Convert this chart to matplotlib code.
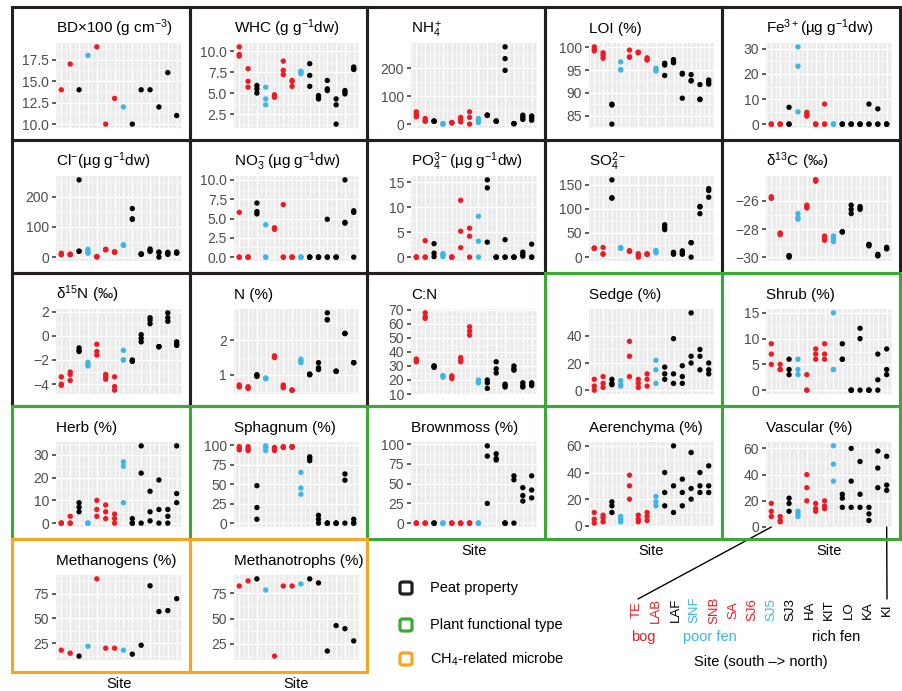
import matplotlib
matplotlib.use('Agg')
from matplotlib import pyplot as plt
from matplotlib.patches import Rectangle, FancyBboxPatch, ConnectionPatch

plt.rcParams['font.family'] = ['Liberation Sans', 'DejaVu Sans']
plt.rcParams['mathtext.fontset'] = 'custom'
plt.rcParams['mathtext.rm'] = 'Liberation Sans'
plt.rcParams['mathtext.it'] = 'Liberation Sans:italic'
plt.rcParams['mathtext.default'] = 'regular'

W, H = 903, 691

# sites, south -> north
sites = ['TE', 'LAB', 'LAF', 'SNF', 'SNB', 'SA', 'SJ6', 'SJ5', 'SJ3', 'HA', 'KIT', 'LO', 'KA', 'KI']
site_group = ['bog', 'bog', 'rich', 'poor', 'bog', 'bog', 'bog', 'poor', 'rich',
              'rich', 'rich', 'rich', 'rich', 'rich']

RED = '#ed1c24'
BLUE = '#3fb7e6'
BLACK = '#000000'
GROUP_COLOR = {'bog': RED, 'poor': BLUE, 'rich': BLACK}

BORDER = {'peat': '#231f20', 'plant': '#3aaa35', 'ch4': '#f5a623'}

# values per site (replicates)
bd = [[14], [17], [14], [18], [19], [10], [13], [12], [10], [14], [14], [12], [16], [11]]
whc = [[10.5, 9.6, 9.4], [7.9, 6.4, 5.7], [5.9, 5.5, 5.0], [5.7, 4.3, 3.6], [4.8, 4.6, 4.5],
       [8.8, 7.7, 7.2], [6.5, 6.4, 5.8], [7.6, 7.5, 7.3], [8.5, 7.1, 5.8], [4.7, 4.5, 4.3],
       [6.5, 5.5, 5.3], [4.3, 3.6, 1.3], [5.3, 5.1, 4.9], [8.1, 7.9, 7.8]]
nh4 = [[44, 35, 26], [20, 12, 10], [11, 11, 10], [1, 0, 2], [5, 4, 6], [24, 17, 8], [44, 24, 0],
       [20, 12, 6], [32, 32, 31], [11, 11, 10], [276, 234, 192], [2, 2, 1], [32, 24, 17], [29, 22, 14]]
loi = [[100.1, 99.6, 99.2], [98.8, 98.2, 97.6], [87.5, 87.3, 83.1], [96.8, 95.1, 95.0],
       [99.4, 97.9, 97.8], [98.9, 98.8, 98.9], [97.7, 97.4, 97.2], [95.4, 95.0, 94.8],
       [96.5, 96.1, 93.8], [97.3, 96.9, 96.6], [94.3, 94.1, 88.8], [94.0, 92.7, 92.6],
       [91.8, 88.6, 88.5], [92.8, 92.3, 91.9]]
fe3 = [[0, 0, 0], [0, 0, 0], [6.7, 0, 0], [30.8, 23.1, 4.9], [4.7, 3.8, 3.2], [0, 0, 0], [8.0, 0, 0],
       [0, 0, 0], [0, 0, 0], [0, 0, 0], [0, 0, 0], [8.0, 0, 0], [6.1, 0, 0], [0, 0, 0]]
cl = [[13, 10, 8], [10, 9, 8], [256, 20, 19], [26, 19, 13], [1, 2, 1], [26, 25, 24], [18, 16, 17],
      [40, 41, 39], [161, 127, 125], [10, 9, 11], [27, 22, 19], [17, 15, 0], [16, 12, 9], [17, 15, 13]]
no3 = [[5.8, 0, 0], [0, 0, 0], [7.0, 5.9, 5.6], [4.2, 0, 0], [3.8, 3.6, 3.7], [6.8, 0, 0], [0, 0, 0],
       [0, 0, 0], [0, 0, 0], [0, 0, 0], [4.9, 0, 0], [0, 0, 0], [10.0, 4.4, 4.5], [6.0, 5.8, 0]]
po4 = [[0, 0, 0], [3.3, 0, 0], [2.7, 0.8, 0.1], [0.7, 0.4, 0.1], [0, 0, 0], [11.4, 5.2, 1.9],
       [5.8, 4.2, 0], [8.2, 3.2, 0], [15.5, 13.9, 3.0], [0, 0, 0], [3.5, 0, 0], [0, 0, 0],
       [1.0, 0.6, 0.2], [2.6, 0, 0]]
so4 = [[19, 18, 18], [20, 7, 6], [160, 123, 122], [19, 18, 20], [13, 13, 12], [7, 4, 0], [6, 6, 7],
       [14, 11, 9], [67, 62, 57], [10, 8, 6], [13, 9, 6], [30, 30, 0], [105, 90, 104], [142, 138, 124]]
d13c = [[-25.8, -25.7, -25.8], [-28.3, -28.4, -28.3], [-29.9, -30.0, -29.9], [-26.9, -27.2, -27.3],
        [-26.3, -26.4, -26.5], [-24.5, -24.6, -24.5], [-28.5, -28.7, -28.8], [-28.5, -28.7, -28.9],
        [-28.2, -28.2, -28.2], [-26.3, -26.6, -26.9], [-26.4, -26.5, -26.6], [-29.1, -29.1, -29.2],
        [-29.8, -29.9, -29.9], [-29.3, -29.4, -29.4]]
d15n = [[-3.4, -4.0, -4.1], [-3.0, -3.2, -3.7], [-1.0, -1.2, -1.3], [-2.2, -2.4, -2.5],
        [-0.7, -1.3, -1.6], [-3.2, -3.4, -3.6], [-3.4, -4.2, -4.5], [-1.2, -2.0, -2.0],
        [-2.1, -2.0, -2.1], [0.1, -0.2, -0.5], [1.5, 1.3, 1.0], [-0.9, -0.9, -0.9],
        [1.9, 1.5, 1.2], [-0.5, -0.7, -0.8]]
n_pct = [[0.7, 0.65, 0.65], [0.65, 0.62, 0.6], [1.0, 0.95, 0.97], [0.9, 0.88, 0.9], [1.55, 1.5, 1.52],
         [0.7, 0.62, 0.65], [0.55, 0.55, 0.55], [1.45, 1.35, 1.4], [1.0, 1.02, 1.0], [1.35, 1.15, 1.2],
         [2.8, 2.6, 2.6], [1.1, 1.1, 1.1], [2.2, 2.2, 2.2], [1.35, 1.35, 1.35]]
cn = [[35, 34, 33], [68, 65, 64], [30, 29, 30], [23, 22, 23], [23, 22, 21], [36, 34, 33], [58, 55, 52],
      [20, 19, 18], [14, 18, 20], [33, 28, 25], [17, 16, 15], [30, 28, 27], [18, 16, 15], [18, 17, 16]]
sedge = [[8, 3, 0], [10, 5, 2], [8, 5, 4], [7, 4, 3], [36, 25, 10], [8, 5, 2], [12, 8, 3], [22, 15, 5],
         [17, 12, 8], [38, 12, 5], [18, 10, 5], [57, 25, 20], [30, 25, 15], [20, 15, 12]]
shrub = [[9, 7, 5], [5, 4, 4], [6, 4, 3], [6, 4, 3], [3, 0, 0], [8, 7, 6], [9, 7, 6], [15, 4, 4],
         [9, 6, 6], [0, 0, 0], [12, 10, 0], [0, 0, 0], [7, 2, 0], [8, 4, 3]]
herb = [[0, 0, 0], [3, 0, 0], [9, 7, 5], [0, 0, 0], [10, 6, 3], [8, 5, 2], [4, 2, 0], [27, 25, 9],
        [2, 0, 0], [34, 22, 0], [14, 5, 1], [19, 6, 0], [6, 3, 0], [34, 13, 9]]
sphagnum = [[98, 96, 94], [98, 95, 93], [48, 20, 5], [99, 97, 93], [97, 95, 93], [98, 97, 97],
            [98, 98, 97], [65, 45, 37], [85, 83, 80], [10, 5, 0], [0, 0, 0], [0, 0, 0],
            [63, 55, 0], [5, 0, 0]]
brownmoss = [[0, 0, 0], [0, 0, 0], [0, 0, 0], [0, 0, 0], [0, 0, 0], [0, 0, 0], [0, 0, 0], [0, 0, 0],
             [98, 85, 25], [88, 82, 80], [0, 0, 0], [60, 55, 0], [45, 35, 28], [60, 42, 32]]
aerenchyma = [[10, 5, 2], [8, 6, 3], [18, 15, 10], [7, 5, 3], [38, 30, 20], [8, 5, 3], [10, 7, 4],
              [22, 18, 15], [40, 25, 15], [60, 30, 10], [35, 25, 15], [55, 28, 20], [40, 30, 25],
              [45, 30, 25]]
vascular = [[18, 12, 8], [8, 5, 4], [22, 18, 12], [12, 10, 8], [40, 30, 20], [18, 14, 12],
            [20, 16, 14], [62, 48, 35], [25, 22, 15], [60, 35, 15], [50, 25, 15], [15, 10, 5],
            [58, 45, 30], [54, 32, 28]]
methanogens = [[18], [15], [12], [22], [90], [20], [20], [18], [14], [23], [83], [57], [58], [70]]
methanotrophs = [[82], [87], [89], [78], [13], [82], [82], [84], [89], [85], [18], [43], [40], [28]]

panels = [
    ('BD×100 (g cm$^{-3}$)', bd, [10, 12.5, 15, 17.5], 'peat'),
    ('WHC (g g$^{-1}$dw)', whc, [2.5, 5, 7.5, 10], 'peat'),
    ('NH$_4^+$', nh4, [0, 100, 200], 'peat'),
    ('LOI (%)', loi, [85, 90, 95, 100], 'peat'),
    ('Fe$^{3+}$(µg g$^{-1}$dw)', fe3, [0, 10, 20, 30], 'peat'),
    ('Cl$^{-}$(µg g$^{-1}$dw)', cl, [0, 100, 200], 'peat'),
    ('NO$_3^-$(µg g$^{-1}$dw)', no3, [0, 2.5, 5, 7.5, 10], 'peat'),
    ('PO$_4^{3-}$(µg g$^{-1}$dw)', po4, [0, 5, 10, 15], 'peat'),
    ('SO$_4^{2-}$', so4, [0, 50, 100, 150], 'peat'),
    ('δ$^{13}$C (‰)', d13c, [-30, -28, -26], 'peat'),
    ('δ$^{15}$N (‰)', d15n, [-4, -2, 0, 2], 'peat'),
    ('N (%)', n_pct, [1, 2], 'peat'),
    ('C:N', cn, [10, 20, 30, 40, 50, 60, 70], 'peat'),
    ('Sedge (%)', sedge, [0, 20, 40], 'plant'),
    ('Shrub (%)', shrub, [0, 5, 10, 15], 'plant'),
    ('Herb (%)', herb, [0, 10, 20, 30], 'plant'),
    ('Sphagnum (%)', sphagnum, [0, 25, 50, 75, 100], 'plant'),
    ('Brownmoss (%)', brownmoss, [0, 25, 50, 75, 100], 'plant'),
    ('Aerenchyma (%)', aerenchyma, [0, 20, 40, 60], 'plant'),
    ('Vascular (%)', vascular, [0, 20, 40, 60], 'plant'),
    ('Methanogens (%)', methanogens, [25, 50, 75], 'ch4'),
    ('Methanotrophs (%)', methanotrophs, [25, 50, 75], 'ch4'),
]

col_x = [12, 190, 367, 545, 722, 900]
row_y = [7, 140, 273, 406, 539, 672]


def fx(x):
    return x / W


def fy(y):
    return 1 - y / H


def tick_labels(ticks):
    if any(t % 1 for t in ticks):
        out = [f'{t:.1f}' for t in ticks]
    else:
        out = [f'{t:g}' for t in ticks]
    return [s.replace('-', '−') for s in out]


fig = plt.figure(figsize=(W / 100, H / 100), dpi=100)

axes = []
for i, (title, vals, ticks, group) in enumerate(panels):
    r, c = divmod(i, 5)
    x0, x1 = col_x[c], col_x[c + 1]
    y0, y1 = row_y[r], row_y[r + 1]
    left, right = x0 + 44, x1 - 8
    top, bottom = y0 + 36, y0 + 121
    ax = fig.add_axes([fx(left), fy(bottom), (right - left) / W, (bottom - top) / H])
    ax.set_facecolor('#ebebeb')
    for s in ax.spines.values():
        s.set_visible(False)

    xs, ys, cs = [], [], []
    for k, v in enumerate(vals):
        for val in v:
            xs.append(k + 1)
            ys.append(val)
            cs.append(GROUP_COLOR[site_group[k]])
    ax.scatter(xs, ys, s=15, c=cs, linewidths=0, zorder=3)

    lo, hi = min(ys), max(ys)
    pad = (hi - lo) * 0.05
    ax.set_ylim(lo - pad, hi + pad)
    ax.set_xlim(0.4, len(sites) + 0.6)

    # grid
    step = ticks[1] - ticks[0]
    for k in range(len(sites)):
        ax.axvline(k + 1, color='white', lw=1.0, zorder=1)
        ax.axvline(k + 0.5, color='white', lw=0.45, zorder=1)
    ax.axvline(len(sites) + 0.5, color='white', lw=0.45, zorder=1)
    minor = [ticks[0] - step / 2] + [t + step / 2 for t in ticks]
    for t in ticks:
        ax.axhline(t, color='white', lw=1.0, zorder=1)
    for t in minor:
        ax.axhline(t, color='white', lw=0.45, zorder=1)

    ax.set_xticks([])
    ax.set_yticks(ticks)
    ax.set_yticklabels(tick_labels(ticks))
    ax.tick_params(axis='y', length=3, width=1.1, color='#333333', labelcolor='#4d4d4d',
                   labelsize=10, pad=2)
    ax.set_title(title, loc='left', fontsize=11, pad=7)

    fig.add_artist(Rectangle((fx(x0), fy(y1)), (x1 - x0) / W, (y1 - y0) / H,
                             transform=fig.transFigure, fill=False, lw=2.2,
                             edgecolor=BORDER[group], zorder=10 + i))
    axes.append(ax)

# x-axis titles under the bottom panels
for i in [17, 18, 19, 20, 21]:
    ax = axes[i]
    pos = ax.get_position()
    r = i // 5
    fig.text(pos.x0 + pos.width / 2, fy(row_y[r + 1] + 12), 'Site', ha='center', va='center',
             fontsize=10.5)

# legend for panel border colours
legend_items = [('Peat property', 'peat', 588), ('Plant functional type', 'plant', 625),
                ('CH$_4$-related microbe', 'ch4', 659)]
for label, group, yy in legend_items:
    fig.add_artist(FancyBboxPatch((fx(400), fy(yy + 6)), 12 / W, 12 / H,
                                  boxstyle='round,pad=0,rounding_size=0.003',
                                  transform=fig.transFigure, fill=False, lw=2.3,
                                  edgecolor=BORDER[group]))
    fig.text(fx(430), fy(yy), label, ha='left', va='center', fontsize=10.5)

# site key
lab_x0, lab_x1 = 637, 887
for k, s in enumerate(sites):
    xx = lab_x0 + (lab_x1 - lab_x0) * k / (len(sites) - 1)
    fig.text(fx(xx), fy(610), s, rotation=90, ha='center', va='center', fontsize=9.5,
             color=GROUP_COLOR[site_group[k]])
fig.text(fx(643), fy(637), 'bog', ha='center', va='center', fontsize=10.5, color=RED)
fig.text(fx(710), fy(637), 'poor fen', ha='center', va='center', fontsize=10.5, color=BLUE)
fig.text(fx(836), fy(637), 'rich fen', ha='center', va='center', fontsize=10.5, color=BLACK)
fig.text(fx(761), fy(662), 'Site (south –> north)', ha='center', va='center', fontsize=10.5)

vax = axes[19]
for k, tx in [(1, 638), (len(sites), 887)]:
    con = ConnectionPatch(xyA=(k, 0), coordsA=vax.get_xaxis_transform(),
                          xyB=(fx(tx), fy(599)), coordsB='figure fraction',
                          color='black', lw=1.0)
    fig.add_artist(con)

fig.savefig('out.png', dpi=100)
